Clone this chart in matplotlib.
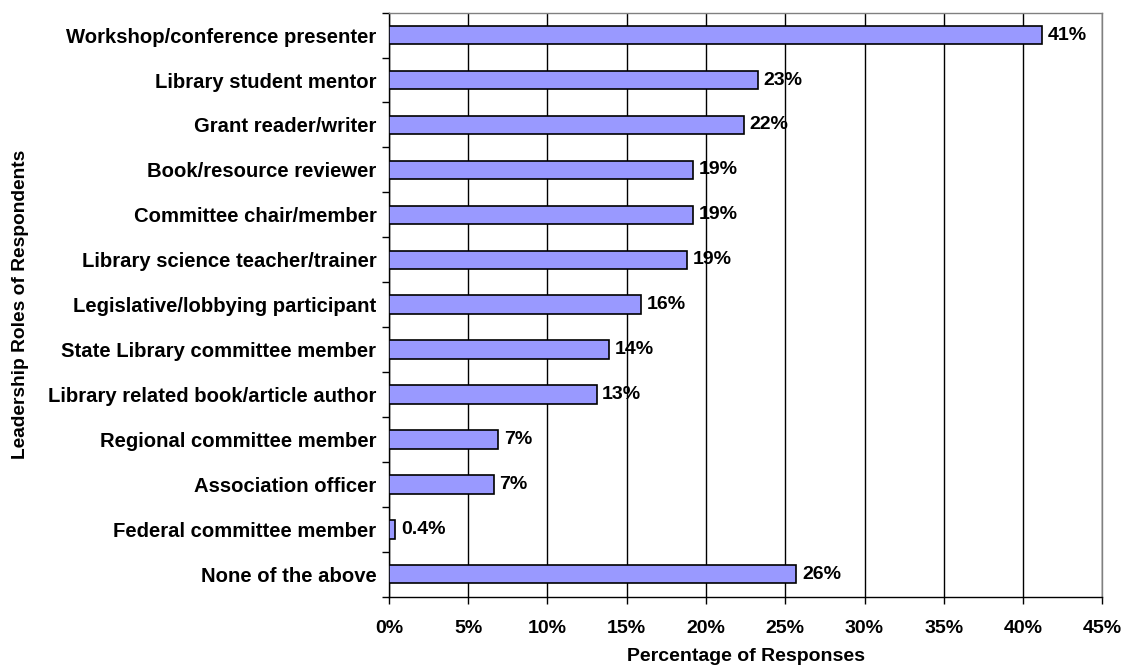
import matplotlib
matplotlib.use("Agg")
import matplotlib.pyplot as plt
import numpy as np

categories = [
    "Workshop/conference presenter",
    "Library student mentor",
    "Grant reader/writer",
    "Book/resource reviewer",
    "Committee chair/member",
    "Library science teacher/trainer",
    "Legislative/lobbying participant",
    "State Library committee member",
    "Library related book/article author",
    "Regional committee member",
    "Association officer",
    "Federal committee member",
    "None of the above",
]
values = [41.2, 23.3, 22.4, 19.2, 19.2, 18.8, 15.9, 13.9, 13.1, 6.9, 6.6, 0.4, 25.7]
xticks = [0, 5, 10, 15, 20, 25, 30, 35, 40, 45]

plt.rcParams['font.family'] = ['Liberation Sans', 'DejaVu Sans']
plt.rcParams['font.weight'] = 'bold'

FS = 14

fig = plt.figure(figsize=(11.24, 6.65), dpi=100)
ax = fig.add_axes([0.346, 0.1027, 0.9807 - 0.346, 0.981 - 0.1027])

y = np.arange(len(categories))
ax.barh(y, values, height=0.41, color='#9999FF', edgecolor='black', linewidth=1.2, zorder=3)

for yi, v in zip(y, values):
    lab = f"{v:.0f}%" if v >= 1 else f"{v:.1f}%"
    ax.text(v + 0.35, yi, lab, va='center', ha='left', fontsize=FS, fontweight='bold', zorder=4)

ax.set_ylim(len(categories) - 0.5, -0.5)
ax.set_xlim(0, 45)
ax.set_xticks(xticks)
ax.set_xticklabels([f"{t}%" for t in xticks], fontsize=FS, fontweight='bold')
ax.set_yticks(y)
ax.set_yticklabels(categories, fontsize=14.6, fontweight='bold')
ax.set_yticks(np.arange(-0.5, len(categories)), minor=True)
ax.tick_params(axis='y', which='major', length=0, pad=9)
ax.tick_params(axis='y', which='minor', length=5, direction='out', width=1)
ax.tick_params(axis='x', which='major', length=5, direction='out', width=1, pad=12)

ax.grid(axis='x', color='black', linewidth=1, zorder=0)
ax.set_axisbelow(True)
for s in ['top', 'right']:
    ax.spines[s].set_color('#808080')
    ax.spines[s].set_linewidth(1)
for s in ['left', 'bottom']:
    ax.spines[s].set_color('black')
    ax.spines[s].set_linewidth(1)

ax.set_xlabel("Percentage of Responses", fontsize=FS, fontweight='bold', labelpad=8)
ax.set_ylabel("Leadership Roles of Respondents", fontsize=13.8, fontweight='bold')
ax.yaxis.set_label_coords(-0.505, 0.5)

fig.savefig("out.png", dpi=100)
